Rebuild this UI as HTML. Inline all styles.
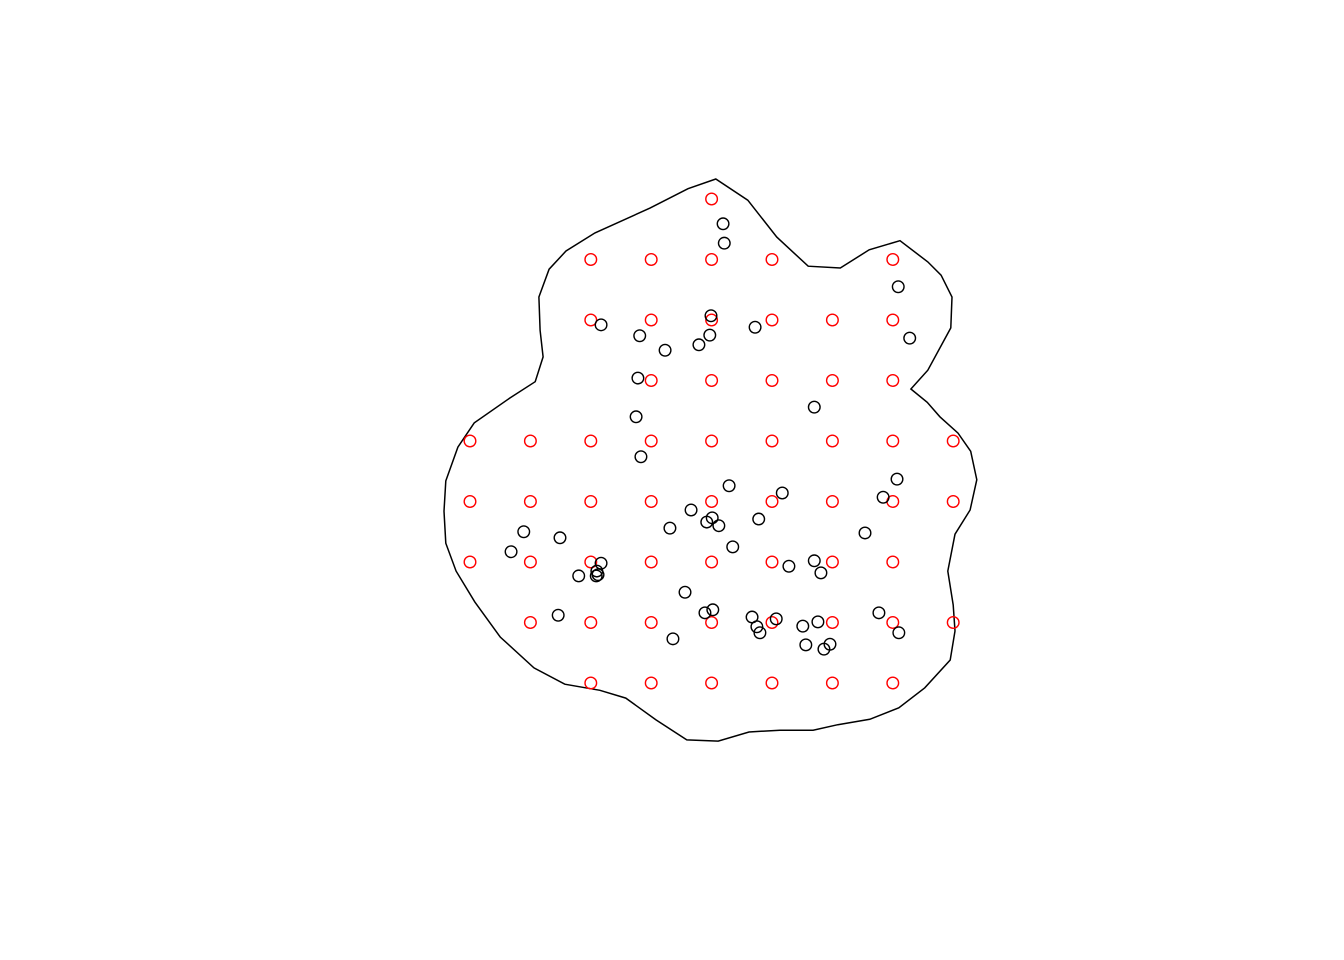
<!DOCTYPE html>
<html><head><meta charset="utf-8"><style>html,body{margin:0;padding:0;background:#fff}svg{display:block}</style></head>
<body>
<svg id="chart" width="1344" height="960" viewBox="0 0 1344 960" xmlns="http://www.w3.org/2000/svg">
<rect width="1344" height="960" fill="#fff"/>
</svg>
<script>
const boundaryX=[4.07,3.61,2.98,2.07,1.59,1.31,1.14,1.16,1.21,1.08,0.66,0.07,-0.20,-0.40,-0.43,-0.40,-0.23,0.08,0.50,1.06,1.57,2.15,2.58,3.08,3.59,4.11,4.62,5.13,5.68,6.09,6.62,7.10,7.53,7.95,8.03,8.00,7.91,8.03,8.28,8.39,8.29,8.08,7.78,7.57,7.30,7.58,7.96,7.98,7.80,7.58,7.12,6.61,6.13,5.60,5.08,4.60];
const boundaryY=[8.33,8.17,7.85,7.44,7.14,6.84,6.38,5.83,5.39,4.98,4.71,4.30,3.90,3.34,2.84,2.31,1.85,1.34,0.76,0.25,-0.02,-0.12,-0.25,-0.61,-0.94,-0.96,-0.81,-0.78,-0.78,-0.69,-0.60,-0.41,-0.08,0.38,0.86,1.29,1.85,2.46,2.86,3.36,3.83,4.13,4.40,4.64,4.86,5.17,5.87,6.38,6.74,6.96,7.31,7.16,6.86,6.89,7.37,7.98];
// grid rows from top (y=8) to bottom (y=0): column indices present
const gridRowY=[8,7,6,5,4,3,2,1,0];
const gridRowCols=[[4],[2,3,4,5,7],[2,3,4,5,6,7],[3,4,5,6,7],[0,1,2,3,4,5,6,7,8],[0,1,2,3,4,5,6,7,8],[0,1,2,3,4,5,6,7],[1,2,3,4,5,6,7,8],[2,3,4,5,6,7]];
const sampleX=[4.19,4.21,7.09,3.99,2.17,3.97,4.72,2.81,7.28,3.23,3.79,2.78,5.70,2.75,2.83,4.29,5.17,7.07,6.84,3.66,4.01,3.92,4.12,4.78,3.31,6.54,0.89,1.49,4.35,0.68,5.70,5.28,5.81,2.17,2.10,2.12,1.80,2.09,3.56,4.02,3.89,6.77,1.46,4.67,5.07,4.75,5.51,5.76,4.80,7.10,3.36,5.56,5.96,5.86];
const sampleY=[7.59,7.27,6.55,6.07,5.92,5.75,5.88,5.74,5.70,5.50,5.59,5.04,4.56,4.40,3.74,3.26,3.14,3.37,3.07,2.86,2.73,2.66,2.60,2.71,2.56,2.48,2.50,2.40,2.25,2.17,2.02,1.93,1.82,1.98,1.85,1.79,1.77,1.77,1.50,1.21,1.16,1.16,1.12,1.09,1.06,0.93,0.94,1.01,0.83,0.83,0.73,0.63,0.64,0.56];

const NS="http://www.w3.org/2000/svg";
const svg=document.getElementById('chart');
function sx(v){return 470+v*60.4;}
function sy(v){return 683-v*60.5;}

const poly=document.createElementNS(NS,'polygon');
poly.setAttribute('points',boundaryX.map((x,i)=>sx(x).toFixed(1)+','+sy(boundaryY[i]).toFixed(1)).join(' '));
poly.setAttribute('fill','none');poly.setAttribute('stroke','#000');poly.setAttribute('stroke-width','1.5');


svg.appendChild(poly);

gridRowY.forEach((gy,r)=>{gridRowCols[r].forEach(gx=>{
  const c=document.createElementNS(NS,'circle');
  c.setAttribute('cx',sx(gx));c.setAttribute('cy',sy(gy));c.setAttribute('r','5.8');
  c.setAttribute('fill','none');c.setAttribute('stroke','#ff0000');c.setAttribute('stroke-width','1.4');
  
  
  svg.appendChild(c);
});});

sampleX.forEach((x,i)=>{
  const c=document.createElementNS(NS,'circle');
  c.setAttribute('cx',sx(x));c.setAttribute('cy',sy(sampleY[i]));c.setAttribute('r','5.8');
  c.setAttribute('fill','none');c.setAttribute('stroke','#000');c.setAttribute('stroke-width','1.4');
  
  
  svg.appendChild(c);
});
</script>
</body></html>
